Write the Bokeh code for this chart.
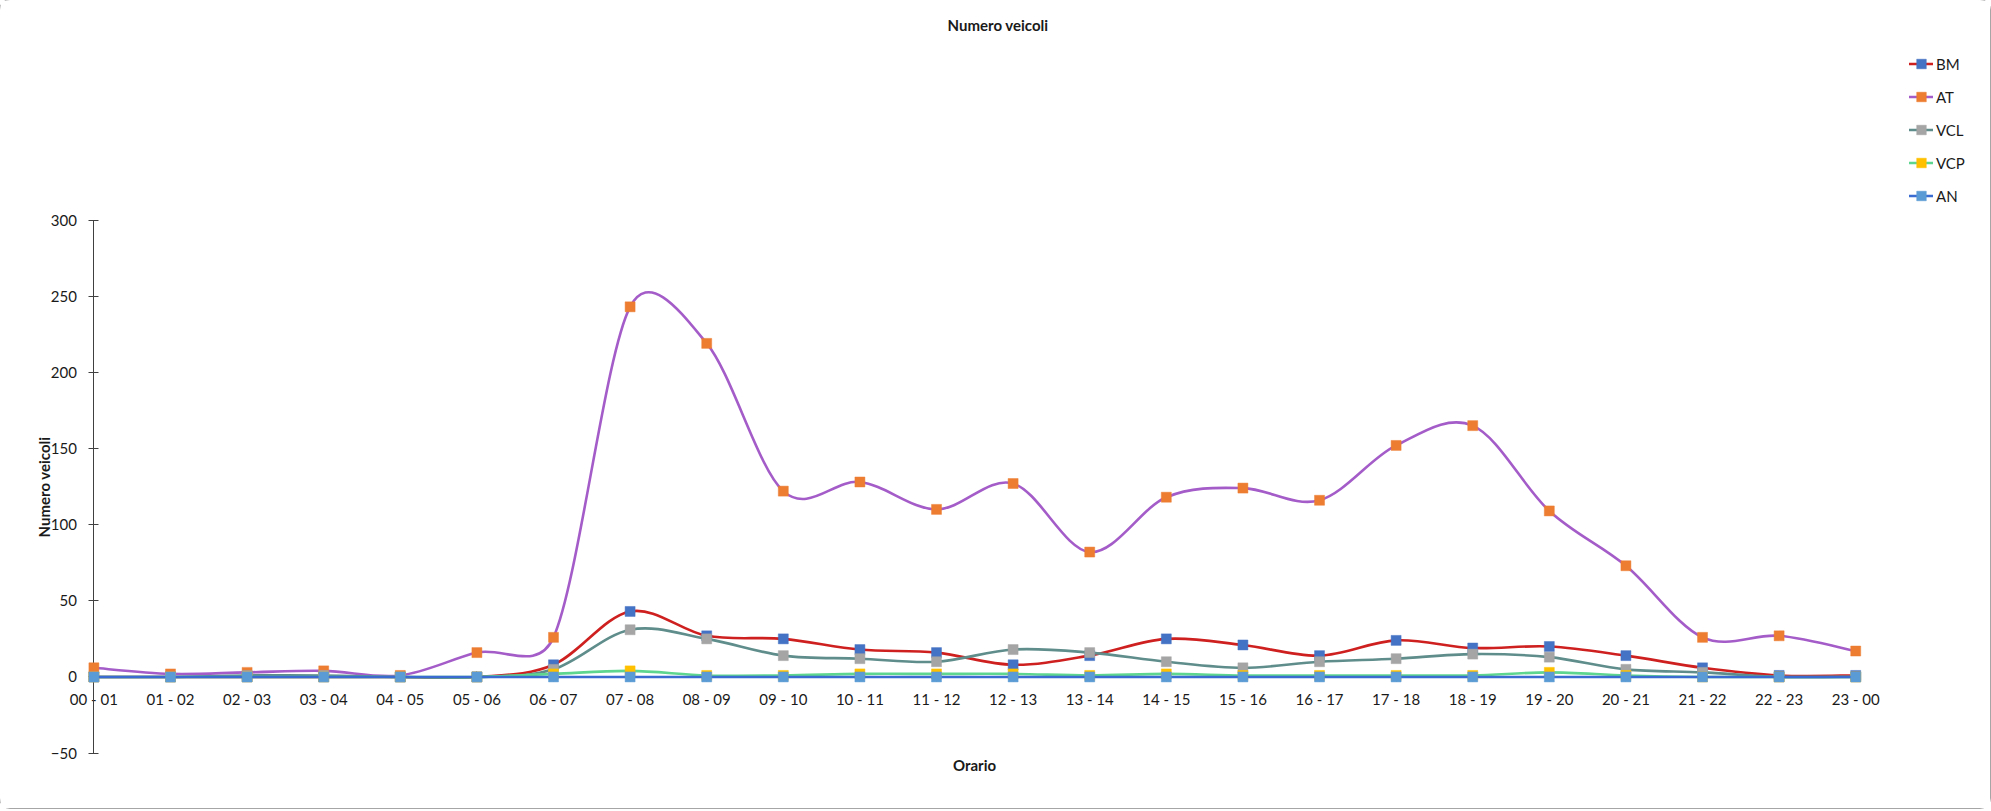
import numpy as np
from bokeh.plotting import figure
from bokeh.models import Range1d, FixedTicker, Legend, LegendItem
from bokeh.embed import file_html
from bokeh.resources import INLINE

# ---------------- data ----------------
categories = ["00 - 01", "01 - 02", "02 - 03", "03 - 04", "04 - 05", "05 - 06",
              "06 - 07", "07 - 08", "08 - 09", "09 - 10", "10 - 11", "11 - 12",
              "12 - 13", "13 - 14", "14 - 15", "15 - 16", "16 - 17", "17 - 18",
              "18 - 19", "19 - 20", "20 - 21", "21 - 22", "22 - 23", "23 - 00"]
BM = [0, 0, 0, 0, 0, 0, 8, 43, 27, 25, 18, 16, 8, 14, 25, 21, 14, 24, 19, 20, 14, 6, 1, 1]
AT = [6, 2, 3, 4, 1, 16, 26, 243, 219, 122, 128, 110, 127, 82, 118, 124, 116, 152, 165, 109, 73, 26, 27, 17]
VCL = [0, 0, 1, 1, 0, 0, 5, 31, 25, 14, 12, 10, 18, 16, 10, 6, 10, 12, 15, 13, 5, 3, 0, 0]
VCP = [0, 0, 0, 0, 0, 0, 2, 4, 1, 1, 2, 2, 2, 1, 2, 1, 1, 1, 1, 3, 1, 0, 0, 0]
AN = [0, 0, 0, 0, 0, 0, 0, 0, 0, 0, 0, 0, 0, 0, 0, 0, 0, 0, 0, 0, 0, 0, 0, 0]
series_names = ["BM", "AT", "VCL", "VCP", "AN"]
series_values = [BM, AT, VCL, VCP, AN]
y_ticks = [-50, 0, 50, 100, 150, 200, 250, 300]

# ---------------- styles ----------------
line_colors = ["#CF2020", "#A45CC9", "#5E8D8B", "#5FD690", "#3A6BD0"]
marker_colors = ["#4472C4", "#ED7D31", "#A5A5A5", "#FFC000", "#5B9BD5"]
FONT = "Lato"
TXT = "#1a1a1a"

W, H = 1990, 808
B_LEFT, B_RIGHT, B_TOP, B_BOTTOM = 13, 8, 48, 10
X0, X1 = -1.0496, 24.655
Y0, Y1 = -79.8, 412.6

p = figure(width=W, height=H, output_backend="svg", toolbar_location=None,
           x_range=Range1d(X0, X1), y_range=Range1d(Y0, Y1),
           min_border_left=B_LEFT, min_border_right=B_RIGHT,
           min_border_top=B_TOP, min_border_bottom=B_BOTTOM)
p.styles = {"outline": "1px solid #A6A6A6", "border-radius": "10px"}
p.outline_line_color = None
p.xgrid.visible = False
p.ygrid.visible = False

p.title.text = "Numero veicoli"
p.title.align = "center"
p.title.vertical_align = "middle"
p.title.standoff = 28
p.title.text_font = FONT
p.title.text_font_size = "15px"
p.title.text_font_style = "bold"
p.title.text_color = TXT

# x axis through y = 0
xa = p.xaxis[0]
xa.level = "underlay"
xa.fixed_location = 0
xa.bounds = (0, len(categories) - 1)
xa.ticker = FixedTicker(ticks=list(range(len(categories))))
xa.major_label_overrides = {i: c for i, c in enumerate(categories)}
xa.minor_tick_line_color = None
xa.major_tick_in = 5
xa.major_tick_out = 5
xa.major_label_standoff = 8
xa.axis_line_color = "#404040"
xa.major_tick_line_color = "#404040"
xa.major_label_text_font = FONT
xa.major_label_text_font_size = "15px"
xa.major_label_text_color = TXT
xa.axis_label = "Orario"
xa.axis_label_standoff = 45
xa.axis_label_text_font = FONT
xa.axis_label_text_font_size = "15px"
xa.axis_label_text_font_style = "bold"
xa.axis_label_text_color = TXT

# y axis through x = first category
ya = p.yaxis[0]
ya.level = "underlay"
ya.fixed_location = 0
ya.bounds = (y_ticks[0], y_ticks[-1])
ya.ticker = FixedTicker(ticks=y_ticks)
ya.minor_tick_line_color = None
ya.major_tick_in = 5
ya.major_tick_out = 5
ya.major_label_standoff = 12
ya.axis_line_color = "#404040"
ya.major_tick_line_color = "#404040"
ya.major_label_text_font = FONT
ya.major_label_text_font_size = "15px"
ya.major_label_text_color = TXT
ya.axis_label = "Numero veicoli"
ya.axis_label_standoff = -6
ya.axis_label_text_font = FONT
ya.axis_label_text_font_size = "15px"
ya.axis_label_text_font_style = "bold"
ya.axis_label_text_color = TXT

# pixel size of one data unit (for spreadsheet-style smoothing, measured on screen)
SX = (W - B_LEFT - B_RIGHT) / (X1 - X0)
SY = (H - B_TOP - B_BOTTOM) / (Y1 - Y0)


def smooth_segments(vals):
    """Bezier control points like a spreadsheet 'smoothed line':
    tangent = (next - prev)/6, capped at half the chord length (screen space)."""
    y = np.asarray(vals, dtype=float)
    x = np.arange(len(y), dtype=float)
    n = len(y)
    px = np.concatenate([[x[0]], x, [x[-1]]]) * SX
    py = np.concatenate([[y[0]], y, [y[-1]]]) * SY
    x0, y0, x1, y1 = [], [], [], []
    cx0, cy0, cx1, cy1 = [], [], [], []
    for i in range(n - 1):
        P0 = np.array([px[i], py[i]])
        P1 = np.array([px[i + 1], py[i + 1]])
        P2 = np.array([px[i + 2], py[i + 2]])
        P3 = np.array([px[i + 3], py[i + 3]])
        d12 = np.hypot(*(P2 - P1))
        T1 = P2 - P0
        T2 = P3 - P1
        n1 = np.hypot(*T1)
        n2 = np.hypot(*T2)
        f1 = 1.0 / 6.0 if n1 == 0 else min(1.0 / 6.0, d12 / (2.0 * n1))
        f2 = 1.0 / 6.0 if n2 == 0 else min(1.0 / 6.0, d12 / (2.0 * n2))
        C1 = P1 + T1 * f1
        C2 = P2 - T2 * f2
        x0.append(P1[0] / SX); y0.append(P1[1] / SY)
        x1.append(P2[0] / SX); y1.append(P2[1] / SY)
        cx0.append(C1[0] / SX); cy0.append(C1[1] / SY)
        cx1.append(C2[0] / SX); cy1.append(C2[1] / SY)
    return dict(x0=x0, y0=y0, x1=x1, y1=y1, cx0=cx0, cy0=cy0, cx1=cx1, cy1=cy1)


items = []
for name, vals, lc, mc in zip(series_names, series_values, line_colors, marker_colors):
    seg = smooth_segments(vals)
    br = p.bezier(x0=seg["x0"], y0=seg["y0"], x1=seg["x1"], y1=seg["y1"],
                  cx0=seg["cx0"], cy0=seg["cy0"], cx1=seg["cx1"], cy1=seg["cy1"],
                  line_color=lc, line_width=2.6, line_cap="round")
    sr = p.scatter(x=list(range(len(vals))), y=vals, marker="square", size=10,
                   fill_color=mc, line_color=mc, line_alpha=0.45, line_width=1)
    items.append(LegendItem(label=name, renderers=[br, sr]))

legend = Legend(items=items, location=(1896, 590), orientation="vertical",
                padding=0, margin=0, spacing=8, glyph_width=24, glyph_height=25,
                label_height=25, label_standoff=3,
                label_text_font=FONT, label_text_font_size="15px", label_text_color=TXT,
                border_line_color=None, background_fill_alpha=0)
p.add_layout(legend)

open("out.html", "w").write(file_html(p, INLINE))
